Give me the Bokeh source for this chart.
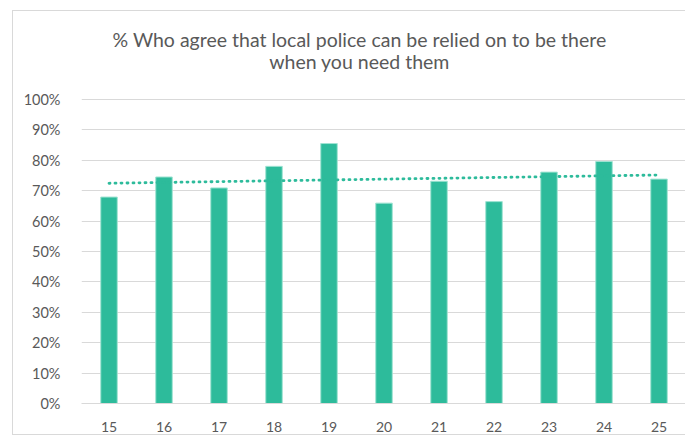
import numpy as np
from bokeh.plotting import figure
from bokeh.models import ColumnDataSource, Label, NumeralTickFormatter, FixedTicker, Range1d
from bokeh.embed import file_html
from bokeh.resources import INLINE

ages = ["15", "16", "17", "18", "19", "20", "21", "22", "23", "24", "25"]
agree = [0.679, 0.745, 0.709, 0.780, 0.855, 0.659, 0.731, 0.664, 0.761, 0.796, 0.738]
title_lines = ["% Who agree that local police can be relied on to be there",
               "when you need them"]
y_ticks = [0, 0.1, 0.2, 0.3, 0.4, 0.5, 0.6, 0.7, 0.8, 0.9, 1.0]

BAR = "#2DBB9B"
TXT = "#595959"
GRID = "#D9D9D9"
FONT = "Lato"

pos = list(range(len(ages)))
src = ColumnDataSource(dict(pos=pos, agree=agree))

# frame spans the whole chart area; the title sits above the 100% gridline
p = figure(x_range=Range1d(-0.5, len(ages) - 0.5), y_range=Range1d(0, 1.286),
           frame_width=605, frame_height=391,
           output_backend="svg", toolbar_location=None,
           min_border_left=68, min_border_right=0, min_border_top=1, min_border_bottom=30,
           margin=(10, 0, 0, 12), styles={"border": "1px solid #D9D9D9"})

p.vbar(x="pos", top="agree", width=0.3, source=src, fill_color=BAR,
       line_color="#9FE3D2", line_width=1)

# linear trend line
k, b = np.polyfit(pos, agree, 1)
trend = [k * i + b for i in pos]
p.line(x=pos, y=trend, line_color=BAR, line_width=2.8, line_dash="1 5", line_cap="round")

for txt, yy in zip(title_lines, [1.197, 1.125]):
    p.add_layout(Label(x=4.555, y=yy, text=txt, text_align="center", text_baseline="middle",
                       text_font=FONT, text_font_size="19.5px", text_color=TXT))

p.yaxis.ticker = FixedTicker(ticks=y_ticks)
p.yaxis.formatter = NumeralTickFormatter(format="0%")
p.yaxis.axis_line_color = None
p.yaxis.major_tick_line_color = None
p.yaxis.minor_tick_line_color = None
p.yaxis.major_label_text_font = FONT
p.yaxis.major_label_text_font_size = "14.5px"
p.yaxis.major_label_text_color = TXT
p.yaxis.major_label_standoff = 15

p.xaxis.ticker = FixedTicker(ticks=pos)
p.xaxis.major_label_overrides = {i: a for i, a in zip(pos, ages)}
p.xaxis.axis_line_color = GRID
p.xaxis.axis_line_width = 1.2
p.xaxis.major_tick_line_color = None
p.xaxis.minor_tick_line_color = None
p.xaxis.major_label_text_font = FONT
p.xaxis.major_label_text_font_size = "14px"
p.xaxis.major_label_text_color = TXT
p.xaxis.major_label_standoff = 12

p.xgrid.grid_line_color = None
p.ygrid.grid_line_color = GRID
p.ygrid.grid_line_width = 1.2
p.outline_line_color = None

open("out.html", "w").write(file_html(p, INLINE))
